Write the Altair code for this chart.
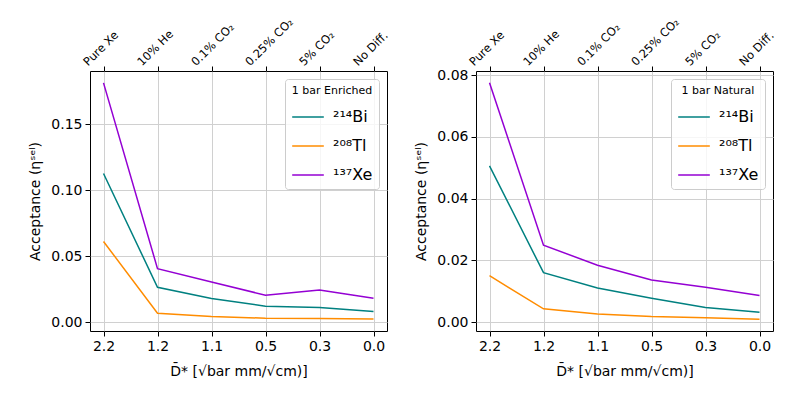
import altair as alt
import pandas as pd

d_labels = ["2.2", "1.2", "1.1", "0.5", "0.3", "0.0"]
gas_labels = ["Pure Xe", "10% He", "0.1% CO₂", "0.25% CO₂", "5% CO₂", "No Diff."]
isotopes = ["²¹⁴Bi", "²⁰⁸Tl", "¹³⁷Xe"]
colors = ["#008080", "#ff8c00", "#9400d3"]

enr_bi = [0.1128, 0.0266, 0.0181, 0.0123, 0.0113, 0.0083]
enr_tl = [0.0613, 0.0070, 0.0045, 0.0032, 0.0030, 0.0025]
enr_xe = [0.1814, 0.0407, 0.0306, 0.0206, 0.0246, 0.0183]
nat_bi = [0.0506, 0.0160, 0.0110, 0.0077, 0.0047, 0.0032]
nat_tl = [0.0150, 0.0043, 0.0026, 0.0018, 0.0014, 0.0009]
nat_xe = [0.0775, 0.0249, 0.0184, 0.0136, 0.0113, 0.0086]

FONT = "DejaVu Sans"
W, H = 297, 260


def panel(series, title, ydomain, yticks):
    rows = []
    for iso, vals in zip(isotopes, series):
        for d, g, v in zip(d_labels, gas_labels, vals):
            rows.append({"D": d, "gas": g, "iso": iso, "val": v})
    df = pd.DataFrame(rows)
    base = alt.Chart(df)
    y = alt.Y(
        "val:Q",
        scale=alt.Scale(domain=ydomain, nice=False, zero=False),
        axis=alt.Axis(
            values=yticks, format=".2f", title="Acceptance (ηˢᵉˡ)",
            grid=True, titlePadding=8,
        ),
    )
    lines = base.mark_line(strokeWidth=1.5).encode(
        x=alt.X(
            "D:N", sort=d_labels,
            scale=alt.Scale(type="point", padding=0.25),
            axis=alt.Axis(
                orient="bottom", labelAngle=0, grid=True,
                title="D̄*  [√bar mm/√cm)]", titlePadding=11,
            ),
        ),
        y=y,
        color=alt.Color(
            "iso:N",
            sort=isotopes,
            scale=alt.Scale(domain=isotopes, range=colors),
            legend=alt.Legend(
                title=title, orient="top-right", offset=8,
                symbolType="stroke", symbolSize=1000, symbolStrokeWidth=1.5,
                labelFontSize=16, titleFontSize=11, titleFontWeight="normal",
                titleAnchor="middle", titleAlign="center",
                strokeColor="#cccccc", fillColor="rgba(255,255,255,0.8)",
                cornerRadius=3, padding=6, rowPadding=4, labelOffset=8,
                titlePadding=4,
            ),
        ),
    )
    top = base.mark_point(opacity=0).encode(
        x=alt.X(
            "gas:N", sort=gas_labels,
            scale=alt.Scale(type="point", padding=0.25),
            axis=alt.Axis(
                orient="top", labelAngle=-45, labelAlign="left",
                labelBaseline="middle", labelOffset=-18, labelPadding=2,
                labelFontSize=11.5, grid=False, title=None,
            ),
        ),
        y=alt.Y("val:Q"),
    )
    return alt.layer(lines, top).resolve_scale(x="independent").properties(
        width=W, height=H
    )


left = panel([enr_bi, enr_tl, enr_xe], "1 bar Enriched",
             [-0.0065, 0.1904], [0.0, 0.05, 0.10, 0.15])
right = panel([nat_bi, nat_tl, nat_xe], "1 bar Natural",
              [-0.0029, 0.0813], [0.0, 0.02, 0.04, 0.06, 0.08])

chart = (
    alt.hconcat(left, right, spacing=23)
    .resolve_scale(x="independent", y="independent", color="independent")
    .resolve_legend(color="independent")
    .properties(padding={"left": 20, "top": 7, "right": 5, "bottom": 5})
    .configure(font=FONT)
    .configure_view(stroke="black", strokeWidth=1)
    .configure_axis(
        labelFont=FONT, titleFont=FONT, labelFontSize=14, titleFontSize=14,
        titleFontWeight="normal", labelColor="black", titleColor="black",
        domain=False, tickColor="black", tickSize=5, labelPadding=3,
        gridColor="#d0d0d0", gridWidth=1,
    )
    .configure_legend(labelFont=FONT, titleFont=FONT, labelColor="black",
                      titleColor="black")
)

chart.save("out.html", embed_options={"renderer": "svg", "actions": False})
